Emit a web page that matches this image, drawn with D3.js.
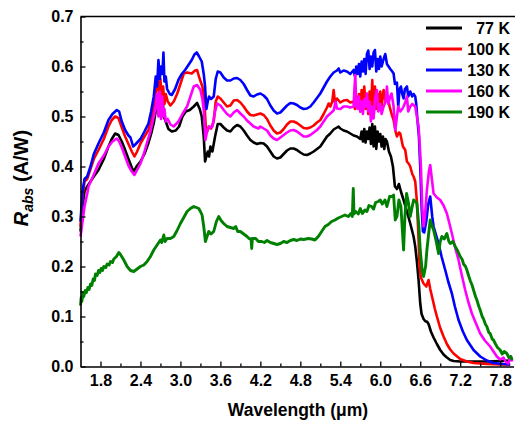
<!DOCTYPE html>
<html>
<head>
<meta charset="utf-8">
<script src="https://cdn.jsdelivr.net/npm/d3@7"></script>
<style>
  body { margin: 0; background: #fff; }
  svg { font-family: "Liberation Sans", Arial, sans-serif; font-weight: bold; }
</style>
</head>
<body>
<svg width="515" height="425"></svg>
<script>
// legend labels and colours
var labels = ["77 K", "100 K", "130 K", "160 K", "190 K"];
var colors = ["#000000", "#ff0000", "#0000ff", "#ff00ff", "#008000"];

var xTicks = [1.8, 2.4, 3.0, 3.6, 4.2, 4.8, 5.4, 6.0, 6.6, 7.2, 7.8];
var yTicks = [0.0, 0.1, 0.2, 0.3, 0.4, 0.5, 0.6, 0.7];

// [wavelength (um), Rabs (A/W)]
var k77 = [[1.50,0.27],[1.53,0.32],[1.56,0.35],[1.60,0.36],[1.65,0.37],[1.70,0.38],[1.77,0.393],[1.85,0.415],[1.92,0.44],[1.97,0.455],[2.02,0.466],[2.07,0.463],[2.12,0.45],[2.17,0.433],[2.22,0.415],[2.27,0.398],[2.30,0.39],[2.34,0.40],[2.40,0.41],[2.46,0.425],[2.52,0.447],[2.56,0.465],[2.60,0.487],[2.64,0.52],[2.67,0.53],[2.69,0.555],[2.71,0.51],[2.73,0.54],[2.75,0.50],[2.78,0.49],[2.82,0.475],[2.87,0.47],[2.93,0.472],[2.98,0.48],[3.03,0.50],[3.08,0.51],[3.14,0.513],[3.20,0.52],[3.25,0.527],[3.29,0.515],[3.32,0.50],[3.35,0.46],[3.37,0.41],[3.39,0.42],[3.41,0.43],[3.43,0.42],[3.45,0.44],[3.48,0.43],[3.52,0.46],[3.56,0.485],[3.60,0.485],[3.65,0.478],[3.70,0.472],[3.75,0.47],[3.80,0.478],[3.85,0.483],[3.90,0.48],[3.95,0.472],[4.00,0.462],[4.05,0.453],[4.10,0.448],[4.15,0.445],[4.20,0.447],[4.25,0.446],[4.30,0.44],[4.35,0.43],[4.40,0.42],[4.45,0.416],[4.50,0.418],[4.55,0.425],[4.60,0.432],[4.65,0.436],[4.70,0.436],[4.75,0.433],[4.80,0.428],[4.85,0.424],[4.90,0.423],[4.95,0.426],[5.00,0.43],[5.05,0.435],[5.10,0.44],[5.15,0.45],[5.20,0.46],[5.25,0.466],[5.30,0.474],[5.35,0.478],[5.375,0.48],[5.40,0.476],[5.45,0.472],[5.50,0.47],[5.55,0.466],[5.60,0.462],[5.65,0.46],[5.70,0.455],[5.72,0.47],[5.74,0.45],[5.76,0.475],[5.78,0.448],[5.80,0.47],[5.82,0.455],[5.84,0.478],[5.86,0.445],[5.88,0.485],[5.90,0.44],[5.92,0.48],[5.94,0.435],[5.96,0.47],[5.98,0.45],[6.00,0.465],[6.02,0.44],[6.04,0.46],[6.06,0.435],[6.08,0.455],[6.10,0.45],[6.13,0.43],[6.16,0.42],[6.19,0.40],[6.22,0.36],[6.25,0.355],[6.28,0.365],[6.31,0.35],[6.35,0.333],[6.40,0.31],[6.45,0.286],[6.50,0.26],[6.525,0.24],[6.55,0.21],[6.575,0.173],[6.60,0.126],[6.62,0.105],[6.65,0.095],[6.68,0.09],[6.70,0.09],[6.725,0.085],[6.76,0.07],[6.80,0.058],[6.85,0.045],[6.90,0.033],[6.95,0.024],[7.00,0.018],[7.05,0.013],[7.10,0.011],[7.20,0.01],[7.40,0.01],[7.60,0.01],[7.80,0.011],[7.95,0.012]];

var k100 = [[1.50,0.28],[1.53,0.34],[1.56,0.37],[1.60,0.375],[1.65,0.395],[1.70,0.415],[1.77,0.433],[1.85,0.455],[1.92,0.48],[1.97,0.493],[2.02,0.5],[2.07,0.497],[2.12,0.478],[2.17,0.46],[2.22,0.445],[2.27,0.43],[2.31,0.42],[2.35,0.43],[2.40,0.446],[2.46,0.46],[2.52,0.473],[2.56,0.49],[2.60,0.52],[2.63,0.55],[2.66,0.57],[2.68,0.54],[2.70,0.575],[2.72,0.53],[2.74,0.56],[2.76,0.525],[2.78,0.545],[2.81,0.53],[2.85,0.522],[2.90,0.53],[2.95,0.545],[3.00,0.565],[3.05,0.586],[3.10,0.588],[3.17,0.586],[3.22,0.592],[3.25,0.593],[3.29,0.575],[3.33,0.56],[3.36,0.53],[3.38,0.48],[3.40,0.47],[3.43,0.48],[3.46,0.476],[3.50,0.49],[3.53,0.53],[3.56,0.54],[3.60,0.536],[3.65,0.528],[3.70,0.52],[3.75,0.522],[3.80,0.532],[3.85,0.533],[3.90,0.528],[3.95,0.52],[4.00,0.51],[4.05,0.503],[4.10,0.502],[4.15,0.504],[4.20,0.506],[4.25,0.503],[4.30,0.495],[4.35,0.482],[4.40,0.472],[4.45,0.466],[4.50,0.468],[4.55,0.475],[4.60,0.484],[4.65,0.49],[4.70,0.49],[4.75,0.487],[4.80,0.482],[4.85,0.477],[4.90,0.476],[4.95,0.478],[5.00,0.482],[5.05,0.488],[5.10,0.493],[5.15,0.505],[5.20,0.518],[5.225,0.526],[5.25,0.52],[5.28,0.53],[5.30,0.553],[5.32,0.528],[5.35,0.536],[5.40,0.528],[5.45,0.532],[5.50,0.533],[5.55,0.528],[5.60,0.53],[5.62,0.515],[5.64,0.54],[5.66,0.52],[5.68,0.545],[5.70,0.51],[5.72,0.553],[5.74,0.52],[5.76,0.56],[5.78,0.515],[5.80,0.545],[5.82,0.505],[5.84,0.55],[5.86,0.51],[5.88,0.573],[5.90,0.50],[5.92,0.56],[5.94,0.515],[5.96,0.545],[5.98,0.52],[6.00,0.55],[6.02,0.52],[6.05,0.553],[6.08,0.53],[6.11,0.54],[6.14,0.52],[6.17,0.505],[6.20,0.493],[6.23,0.47],[6.25,0.46],[6.28,0.468],[6.30,0.466],[6.34,0.44],[6.375,0.433],[6.40,0.41],[6.43,0.405],[6.45,0.40],[6.48,0.385],[6.50,0.38],[6.525,0.37],[6.55,0.33],[6.57,0.27],[6.59,0.2],[6.61,0.178],[6.65,0.166],[6.69,0.16],[6.725,0.173],[6.75,0.155],[6.78,0.138],[6.82,0.115],[6.85,0.1],[6.90,0.077],[6.95,0.06],[7.00,0.045],[7.05,0.034],[7.10,0.026],[7.20,0.015],[7.30,0.01],[7.40,0.007],[7.60,0.005],[7.80,0.004],[7.95,0.004]];

var k130 = [[1.50,0.29],[1.53,0.35],[1.56,0.375],[1.60,0.38],[1.65,0.40],[1.70,0.425],[1.77,0.446],[1.85,0.468],[1.92,0.493],[1.98,0.505],[2.045,0.513],[2.08,0.51],[2.12,0.49],[2.17,0.473],[2.22,0.462],[2.25,0.458],[2.29,0.44],[2.33,0.445],[2.40,0.455],[2.46,0.47],[2.52,0.486],[2.56,0.51],[2.60,0.54],[2.63,0.58],[2.65,0.56],[2.67,0.613],[2.69,0.575],[2.71,0.6],[2.73,0.585],[2.745,0.628],[2.76,0.57],[2.78,0.58],[2.80,0.555],[2.84,0.545],[2.87,0.543],[2.92,0.555],[2.97,0.573],[3.02,0.585],[3.07,0.593],[3.12,0.603],[3.17,0.613],[3.21,0.624],[3.245,0.628],[3.28,0.62],[3.32,0.61],[3.35,0.585],[3.37,0.56],[3.39,0.515],[3.41,0.53],[3.43,0.54],[3.46,0.535],[3.50,0.54],[3.53,0.575],[3.56,0.59],[3.60,0.588],[3.65,0.578],[3.70,0.572],[3.75,0.572],[3.80,0.576],[3.85,0.577],[3.90,0.573],[3.95,0.565],[4.00,0.553],[4.05,0.542],[4.10,0.54],[4.15,0.544],[4.20,0.546],[4.25,0.542],[4.30,0.535],[4.35,0.522],[4.40,0.512],[4.45,0.506],[4.50,0.508],[4.55,0.515],[4.60,0.522],[4.65,0.527],[4.70,0.526],[4.75,0.523],[4.80,0.518],[4.85,0.515],[4.90,0.516],[4.95,0.52],[5.00,0.528],[5.05,0.537],[5.10,0.546],[5.15,0.558],[5.20,0.57],[5.25,0.58],[5.30,0.588],[5.35,0.592],[5.375,0.596],[5.40,0.588],[5.45,0.592],[5.50,0.59],[5.55,0.585],[5.60,0.593],[5.62,0.58],[5.64,0.6],[5.66,0.585],[5.68,0.605],[5.70,0.58],[5.72,0.61],[5.74,0.59],[5.76,0.615],[5.78,0.585],[5.80,0.625],[5.82,0.632],[5.84,0.595],[5.86,0.62],[5.88,0.6],[5.90,0.628],[5.92,0.633],[5.94,0.59],[5.96,0.615],[5.98,0.595],[6.00,0.62],[6.02,0.6],[6.05,0.615],[6.075,0.625],[6.10,0.605],[6.125,0.6],[6.15,0.595],[6.18,0.59],[6.20,0.586],[6.22,0.565],[6.25,0.568],[6.27,0.52],[6.29,0.555],[6.31,0.56],[6.33,0.545],[6.35,0.536],[6.37,0.555],[6.40,0.56],[6.42,0.54],[6.45,0.55],[6.48,0.54],[6.50,0.545],[6.525,0.54],[6.54,0.525],[6.56,0.49],[6.58,0.46],[6.60,0.40],[6.62,0.32],[6.64,0.27],[6.66,0.268],[6.69,0.29],[6.72,0.325],[6.75,0.34],[6.78,0.3],[6.80,0.28],[6.84,0.262],[6.875,0.246],[6.92,0.22],[6.975,0.193],[7.02,0.17],[7.075,0.146],[7.12,0.12],[7.175,0.093],[7.24,0.07],[7.30,0.053],[7.40,0.033],[7.50,0.02],[7.60,0.012],[7.70,0.007],[7.85,0.005],[7.95,0.004]];

var k160 = [[1.50,0.26],[1.53,0.29],[1.56,0.32],[1.60,0.345],[1.62,0.36],[1.67,0.375],[1.72,0.39],[1.77,0.406],[1.85,0.422],[1.92,0.44],[1.98,0.45],[2.045,0.456],[2.08,0.45],[2.12,0.438],[2.17,0.42],[2.22,0.402],[2.27,0.39],[2.31,0.383],[2.35,0.393],[2.40,0.406],[2.45,0.425],[2.495,0.446],[2.55,0.47],[2.60,0.5],[2.63,0.52],[2.65,0.545],[2.67,0.5],[2.69,0.55],[2.71,0.495],[2.725,0.54],[2.74,0.5],[2.76,0.515],[2.78,0.49],[2.81,0.495],[2.85,0.484],[2.90,0.48],[2.97,0.49],[3.03,0.505],[3.10,0.52],[3.15,0.54],[3.20,0.56],[3.25,0.563],[3.30,0.553],[3.33,0.535],[3.35,0.513],[3.375,0.453],[3.40,0.47],[3.425,0.48],[3.45,0.478],[3.48,0.48],[3.52,0.51],[3.55,0.526],[3.60,0.522],[3.65,0.513],[3.70,0.505],[3.75,0.5],[3.80,0.508],[3.85,0.513],[3.90,0.506],[3.95,0.5],[4.00,0.492],[4.05,0.486],[4.10,0.48],[4.17,0.476],[4.20,0.48],[4.25,0.476],[4.30,0.472],[4.35,0.462],[4.40,0.456],[4.45,0.453],[4.50,0.458],[4.55,0.463],[4.60,0.468],[4.65,0.472],[4.70,0.473],[4.75,0.47],[4.80,0.465],[4.85,0.46],[4.90,0.46],[4.95,0.463],[5.00,0.468],[5.05,0.473],[5.10,0.48],[5.15,0.49],[5.20,0.5],[5.25,0.506],[5.30,0.512],[5.33,0.53],[5.35,0.516],[5.40,0.515],[5.45,0.52],[5.50,0.52],[5.55,0.518],[5.60,0.52],[5.61,0.55],[5.625,0.583],[5.64,0.52],[5.66,0.515],[5.68,0.54],[5.70,0.51],[5.72,0.53],[5.74,0.505],[5.76,0.535],[5.78,0.52],[5.80,0.546],[5.82,0.51],[5.84,0.53],[5.86,0.49],[5.88,0.52],[5.90,0.496],[5.92,0.535],[5.95,0.553],[5.97,0.51],[6.00,0.525],[6.02,0.505],[6.05,0.52],[6.08,0.53],[6.10,0.56],[6.12,0.525],[6.15,0.54],[6.17,0.546],[6.20,0.52],[6.225,0.473],[6.25,0.5],[6.27,0.52],[6.30,0.51],[6.33,0.515],[6.35,0.52],[6.38,0.53],[6.40,0.54],[6.42,0.51],[6.45,0.52],[6.48,0.525],[6.525,0.52],[6.55,0.5],[6.575,0.48],[6.59,0.45],[6.61,0.40],[6.63,0.32],[6.65,0.28],[6.67,0.3],[6.70,0.353],[6.73,0.39],[6.75,0.403],[6.77,0.38],[6.80,0.346],[6.85,0.338],[6.90,0.333],[6.95,0.322],[7.00,0.306],[7.04,0.285],[7.075,0.266],[7.12,0.24],[7.175,0.213],[7.22,0.185],[7.275,0.153],[7.32,0.13],[7.375,0.106],[7.44,0.085],[7.50,0.066],[7.57,0.052],[7.65,0.04],[7.70,0.03],[7.75,0.02],[7.80,0.014],[7.85,0.018],[7.88,0.01],[7.92,0.006],[7.96,0.02],[7.98,0.01]];

var k190 = [[1.50,0.122],[1.51,0.138],[1.52,0.13],[1.54,0.148],[1.55,0.14],[1.57,0.152],[1.59,0.148],[1.61,0.158],[1.63,0.154],[1.65,0.165],[1.67,0.162],[1.69,0.175],[1.71,0.172],[1.725,0.185],[1.75,0.182],[1.77,0.192],[1.79,0.188],[1.81,0.196],[1.83,0.192],[1.85,0.2],[1.88,0.198],[1.90,0.205],[1.93,0.203],[1.95,0.21],[1.98,0.208],[2.00,0.215],[2.04,0.22],[2.075,0.228],[2.10,0.224],[2.15,0.213],[2.20,0.2],[2.25,0.192],[2.30,0.19],[2.35,0.195],[2.40,0.2],[2.45,0.203],[2.50,0.21],[2.55,0.22],[2.60,0.233],[2.65,0.243],[2.70,0.253],[2.72,0.248],[2.75,0.263],[2.77,0.25],[2.80,0.256],[2.85,0.256],[2.90,0.26],[2.95,0.272],[3.00,0.286],[3.05,0.298],[3.10,0.31],[3.15,0.316],[3.20,0.32],[3.24,0.318],[3.275,0.316],[3.30,0.31],[3.325,0.303],[3.35,0.28],[3.375,0.25],[3.40,0.26],[3.425,0.27],[3.46,0.265],[3.50,0.27],[3.54,0.29],[3.575,0.3],[3.61,0.292],[3.65,0.286],[3.70,0.28],[3.75,0.278],[3.80,0.276],[3.83,0.28],[3.86,0.27],[3.90,0.27],[3.95,0.265],[4.00,0.26],[4.03,0.256],[4.06,0.255],[4.07,0.236],[4.08,0.256],[4.13,0.256],[4.17,0.25],[4.22,0.25],[4.26,0.248],[4.30,0.252],[4.35,0.248],[4.40,0.246],[4.45,0.244],[4.50,0.246],[4.55,0.25],[4.60,0.248],[4.65,0.252],[4.70,0.254],[4.75,0.252],[4.80,0.255],[4.85,0.254],[4.92,0.256],[4.97,0.255],[5.02,0.253],[5.07,0.26],[5.12,0.27],[5.17,0.28],[5.22,0.284],[5.27,0.29],[5.32,0.293],[5.37,0.297],[5.42,0.3],[5.47,0.303],[5.52,0.3],[5.56,0.306],[5.58,0.3],[5.595,0.356],[5.605,0.305],[5.63,0.31],[5.67,0.305],[5.70,0.316],[5.73,0.306],[5.77,0.313],[5.80,0.31],[5.83,0.322],[5.87,0.32],[5.90,0.315],[5.93,0.328],[5.97,0.33],[6.00,0.333],[6.03,0.325],[6.07,0.333],[6.10,0.32],[6.14,0.34],[6.175,0.34],[6.20,0.343],[6.225,0.293],[6.25,0.3],[6.28,0.333],[6.31,0.32],[6.35,0.233],[6.37,0.3],[6.395,0.346],[6.42,0.33],[6.45,0.3],[6.48,0.32],[6.50,0.333],[6.53,0.33],[6.55,0.326],[6.58,0.28],[6.60,0.233],[6.63,0.19],[6.65,0.18],[6.68,0.2],[6.70,0.233],[6.73,0.27],[6.75,0.293],[6.78,0.28],[6.80,0.273],[6.84,0.25],[6.875,0.226],[6.90,0.25],[6.925,0.26],[6.96,0.255],[7.00,0.266],[7.03,0.25],[7.05,0.246],[7.09,0.25],[7.125,0.24],[7.16,0.232],[7.20,0.22],[7.23,0.214],[7.25,0.205],[7.28,0.2],[7.30,0.193],[7.33,0.18],[7.35,0.172],[7.38,0.162],[7.40,0.153],[7.43,0.14],[7.45,0.133],[7.48,0.12],[7.50,0.113],[7.53,0.1],[7.55,0.095],[7.58,0.084],[7.60,0.08],[7.63,0.068],[7.65,0.066],[7.68,0.055],[7.70,0.053],[7.73,0.045],[7.76,0.038],[7.80,0.033],[7.83,0.025],[7.86,0.03],[7.90,0.026],[7.93,0.018],[7.96,0.02],[7.98,0.013]];

var series = [k77, k100, k130, k160, k190];

var svg = d3.select("svg");
var mLeft = 80.5, mRight = 513.5, mTop = 16.5, mBottom = 366.5;

var x = d3.scaleLinear().domain([1.5, 8.0]).range([mLeft, mRight]);
var y = d3.scaleLinear().domain([0, 0.7]).range([mBottom, mTop]);

// curves
var line = d3.line()
    .x(function(d){ return x(d[0]); })
    .y(function(d){ return y(d[1]); });

svg.append("g").selectAll("path")
    .data(series)
    .enter().append("path")
    .attr("d", line)
    .attr("fill", "none")
    .attr("stroke", function(d, i){ return colors[i]; })
    .attr("stroke-width", function(d, i){ return i == 4 ? 2.9 : 2.6; })
    .attr("stroke-linejoin", "round");

// minor ticks
var xMinor = d3.range(0, 11).map(function(i){ return 2.1 + i * 0.6; }).filter(function(v){ return v < 8; });
var yMinor = d3.range(0, 7).map(function(i){ return 0.05 + i * 0.1; });

svg.append("g")
    .attr("transform", "translate(0," + mBottom + ")")
    .call(d3.axisBottom(x).tickValues(xMinor).tickSize(-3).tickFormat(""))
    .call(function(g){ g.select(".domain").remove(); });
svg.append("g")
    .attr("transform", "translate(" + mLeft + ",0)")
    .call(d3.axisLeft(y).tickValues(yMinor).tickSize(-3).tickFormat(""))
    .call(function(g){ g.select(".domain").remove(); });

// main axes
var xAxis = svg.append("g")
    .attr("transform", "translate(0," + mBottom + ")")
    .call(d3.axisBottom(x).tickValues(xTicks).tickSizeInner(-5).tickSizeOuter(0)
        .tickPadding(8).tickFormat(d3.format(".1f")));
var yAxis = svg.append("g")
    .attr("transform", "translate(" + mLeft + ",0)")
    .call(d3.axisLeft(y).tickValues(yTicks).tickSizeInner(-5).tickSizeOuter(0)
        .tickPadding(7).tickFormat(d3.format(".1f")));

svg.selectAll(".tick line").attr("stroke", "#000").attr("stroke-width", 1.3);
[xAxis, yAxis].forEach(function(g){
  g.select(".domain").attr("stroke-width", 1.6);
  g.selectAll("text").attr("font-size", 16).attr("font-weight", "bold")
    .attr("font-family", "'Liberation Sans', Arial, sans-serif").attr("fill", "#000");
});

// top frame line
svg.append("line")
    .attr("x1", mLeft).attr("x2", 515).attr("y1", mTop).attr("y2", mTop)
    .attr("stroke", "#000").attr("stroke-width", 1.4);

// axis titles
svg.append("text")
    .attr("x", 298).attr("y", 416)
    .attr("text-anchor", "middle")
    .attr("font-size", 17.5)
    .text("Wavelength (\u03bcm)");

var yt = svg.append("text")
    .attr("transform", "translate(28,178) rotate(-90)")
    .attr("text-anchor", "middle")
    .attr("font-size", 20);
yt.append("tspan").attr("font-style", "italic").text("R");
yt.append("tspan").attr("font-style", "italic").attr("font-size", 14).attr("dy", 5).text("abs");
yt.append("tspan").attr("dy", -5).text(" (A/W)");

// legend
var leg = svg.append("g").selectAll("g")
    .data(labels)
    .enter().append("g")
    .attr("transform", function(d, i){ return "translate(0," + (28 + i * 21) + ")"; });
leg.append("line")
    .attr("x1", 426).attr("x2", 462)
    .attr("stroke", function(d, i){ return colors[i]; })
    .attr("stroke-width", 2.8);
leg.append("text")
    .attr("x", 510).attr("dy", "0.36em")
    .attr("text-anchor", "end")
    .attr("font-size", 16)
    .text(function(d){ return d; });
</script>
</body>
</html>
